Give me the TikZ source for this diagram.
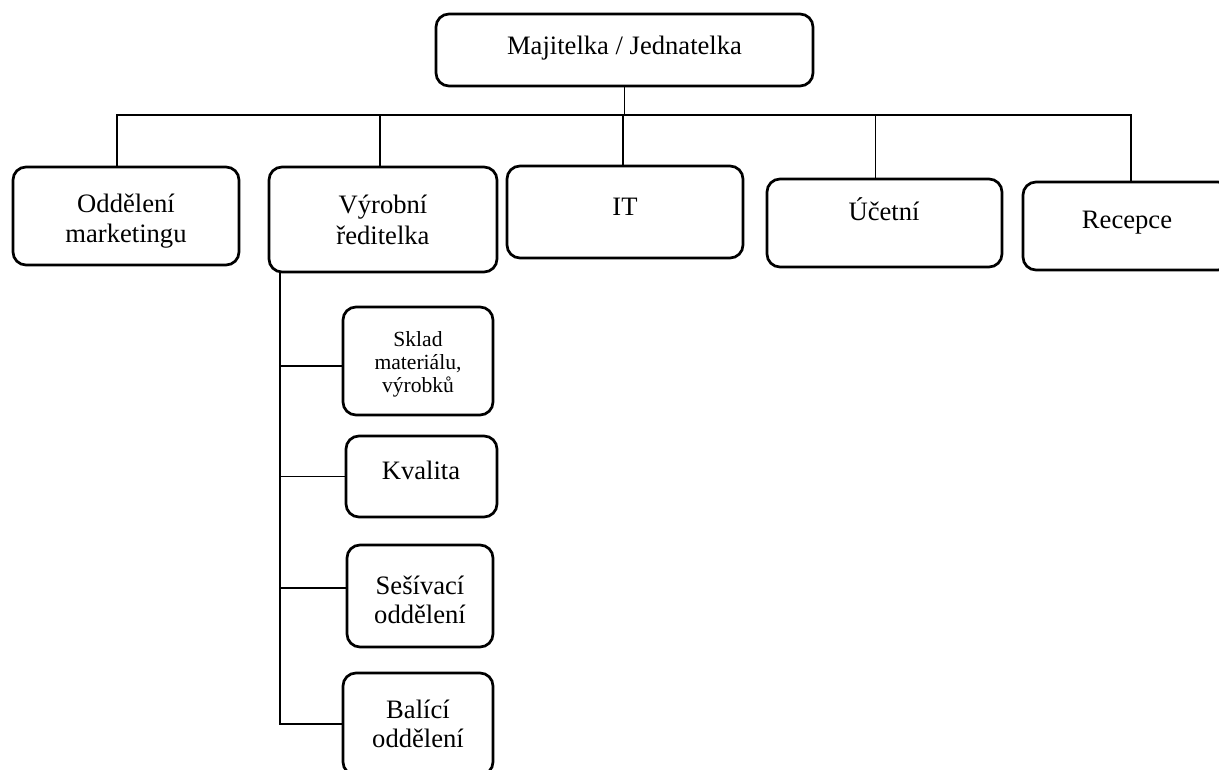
\documentclass[tikz,border=0pt]{standalone}
\usepackage{fontspec}
\setmainfont{Liberation Serif}
\begin{document}
\begin{tikzpicture}[x=1pt,y=-1pt,
  box/.style={draw=black, line width=2.7pt, rounded corners=13pt, inner sep=0pt, fill=white},
  conn/.style={draw=black, line width=1.3pt},
  txt/.style={inner sep=0pt, anchor=base, font=\fontsize{26.6}{30}\selectfont},
  stxt/.style={inner sep=0pt, anchor=base, font=\fontsize{21.6}{24}\selectfont}]
\useasboundingbox[fill=white] (0,0) rectangle (1219,769);
\begin{scope}
\clip (0,0) rectangle (1219,769);
% boxes
\node[box, minimum width=377pt, minimum height=72pt]  (top) at (624.5,50) {};
\node[box, minimum width=226pt, minimum height=98pt]  (odd) at (126,216) {};
\node[box, minimum width=228pt, minimum height=105pt] (vyr) at (383,219.5) {};
\node[box, minimum width=236pt, minimum height=92pt]  (it)  at (625,212) {};
\node[box, minimum width=235pt, minimum height=88pt]  (uce) at (884.5,223) {};
\node[box, minimum width=208pt, minimum height=88pt]  (rec) at (1127,226) {};
\node[box, minimum width=150pt, minimum height=108pt] (sk)  at (418,361) {};
\node[box, minimum width=151pt, minimum height=81pt]  (kv)  at (421.5,476.5) {};
\node[box, minimum width=146pt, minimum height=102pt] (ses) at (420,596) {};
\node[box, minimum width=150pt, minimum height=102pt] (bal) at (418,724) {};
% texts
\node[txt] (ttop) at (624.5,54) {Majitelka / Jednatelka};
\node[txt] (todd1) at (126,212) {Oddělení};
\node[txt] (todd2) at (126,242) {marketingu};
\node[txt] (tvyr1) at (383,213) {Výrobní};
\node[txt] (tvyr2) at (383,244) {ředitelka};
\node[txt] (tit) at (625,215) {IT};
\node[txt] (tuce) at (884,220) {Účetní};
\node[txt] (trec) at (1127,228) {Recepce};
\node[stxt] (tsk1) at (418,346) {Sklad};
\node[stxt] (tsk2) at (418,369) {materiálu,};
\node[stxt] (tsk3) at (418,392) {výrobků};
\node[txt] (tkv) at (421,479) {Kvalita};
\node[txt] (tses1) at (420,594) {Sešívací};
\node[txt] (tses2) at (420,623) {oddělení};
\node[txt] (tbal1) at (418,718) {Balící};
\node[txt] (tbal2) at (418,747) {oddělení};
% connectors
\coordinate (bus) at (0,115);
\coordinate (tx) at (280,0);
\draw[conn] (top.south) -- (top.south |- bus);
\draw[conn] ([xshift=-9pt]odd.north) -- ([xshift=-9pt]odd.north |- bus) -- ([xshift=4pt]rec.north |- bus) -- ([xshift=4pt]rec.north);
\draw[conn] ([xshift=-3pt]vyr.north) -- ([xshift=-3pt]vyr.north |- bus);
\draw[conn] ([xshift=-2pt]it.north) -- ([xshift=-2pt]it.north |- bus);
\draw[conn] ([xshift=-9pt]uce.north) -- ([xshift=-9pt]uce.north |- bus);
% sub-branches
\draw[conn] (vyr.south -| tx) -- (bal.west -| tx) -- (bal.west);
\draw[conn] ([yshift=-5pt]sk.west -| tx) -- ([yshift=-5pt]sk.west);
\draw[conn] (kv.west -| tx) -- (kv.west);
\draw[conn] ([yshift=8pt]ses.west -| tx) -- ([yshift=8pt]ses.west);
\end{scope}
\end{tikzpicture}
\end{document}
